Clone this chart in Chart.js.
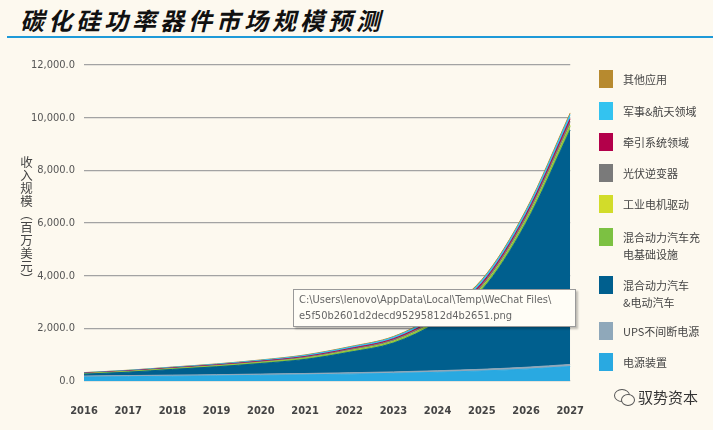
<!DOCTYPE html>
<html>
<head>
<meta charset="utf-8">
<script src="https://cdn.jsdelivr.net/npm/chart.js@4.4.1/dist/chart.umd.min.js"></script>
<style>
    html, body { margin: 0; padding: 0; }
    body { width: 713px; height: 430px; background: #fdf9ef; position: relative; overflow: hidden; font-family: "Noto Sans CJK SC", sans-serif; }
    #title { position: absolute; left: 20px; top: 2px; font-size: 24px; font-weight: 700; font-style: italic; letter-spacing: 4px; color: #111; }
    #rule { position: absolute; left: 7px; top: 36px; width: 706px; height: 2px; background: #1e9ad8; }
    #chartBox { position: absolute; left: 0; top: 0; width: 600px; height: 430px; }
    #yTitle { position: absolute; left: 19px; top: 156px; writing-mode: vertical-rl; font-size: 12.5px; line-height: 14px; color: #444; letter-spacing: 0.5px; }
    .legend { position: absolute; left: 599px; font-size: 11px; line-height: 17px; color: #444; }
    .legend i { position: absolute; left: 0; width: 14px; height: 18px; }
    .legend span { position: absolute; left: 24px; white-space: nowrap; }
    #tip { position: absolute; left: 293px; top: 289px; width: 283px; height: 38px; background: #fffdf6; border: 1px solid #9a9a9a; box-shadow: 2px 2px 2px rgba(0,0,0,0.25); font-family: "Liberation Sans Narrow", "DejaVu Sans Condensed", sans-serif; font-size: 11px; line-height: 16px; color: #666; padding: 2px 0 0 5px; box-sizing: border-box; }
    #mark { position: absolute; left: 614px; top: 386px; font-size: 15px; color: #333; }
    #mark .b1 { position: absolute; left: 0; top: 3px; width: 14px; height: 11px; border: 1.3px solid #555; border-radius: 50%; }
    #mark .b2 { position: absolute; left: 7px; top: 8px; width: 12px; height: 10px; border: 1.3px solid #555; border-radius: 50%; background: #fdf9ef; }
    #mark span { position: absolute; left: 24px; top: 0; white-space: nowrap; }
</style>
</head>
<body>
<div id="title">碳化硅功率器件市场规模预测</div>
<div id="rule"></div>
<div id="chartBox"><canvas id="marketChart" width="600" height="430"></canvas></div>
<div id="yTitle">收入规模（百万美元）</div>
<div id="legend"></div>
<div id="tip">C:\Users\lenovo\AppData\Local\Temp\WeChat Files\<br>e5f50b2601d2decd95295812d4b2651.png</div>
<div id="mark"><div class="b1"></div><div class="b2"></div><span>驭势资本</span></div>

<script>
// Years on the x axis
const years = ['2016', '2017', '2018', '2019', '2020', '2021', '2022', '2023', '2024', '2025', '2026', '2027'];

// Series values (million USD), stacked bottom to top
const powerSupply = [150, 165, 180, 195, 215, 235, 260, 290, 330, 380, 450, 550];
const ups = [40, 42, 44, 46, 48, 50, 53, 56, 60, 65, 72, 80];
const evHev = [70, 128, 216, 299, 402, 535, 777, 1094, 1840, 3005, 5468, 8900];
const charging = [13, 17, 20, 24, 30, 37, 46, 55, 70, 88, 112, 143];
const motorDrive = [4, 5, 5, 7, 8, 10, 13, 15, 19, 24, 31, 39];
const pvInverter = [13, 16, 20, 24, 30, 37, 46, 55, 70, 88, 112, 143];
const traction = [10, 12, 14, 18, 22, 27, 34, 40, 51, 64, 82, 104];
const military = [14, 18, 22, 26, 32, 41, 50, 60, 77, 96, 122, 156];
const otherApps = [6, 7, 9, 11, 13, 18, 21, 25, 33, 40, 51, 65];

// Y axis ticks
const yTicks = [0, 2000, 4000, 6000, 8000, 10000, 12000];

const series = [
    { label: '电源装置', data: powerSupply, color: '#29a9e1', legendTop: 353 },
    { label: 'UPS不间断电源', data: ups, color: '#8fa8ba', legendTop: 322 },
    { label: '混合动力汽车\n&电动汽车', data: evHev, color: '#005f8e', legendTop: 276 },
    { label: '混合动力汽车充\n电基础设施', data: charging, color: '#7cc142', legendTop: 228 },
    { label: '工业电机驱动', data: motorDrive, color: '#d2dc2a', legendTop: 195 },
    { label: '光伏逆变器', data: pvInverter, color: '#7a7a7a', legendTop: 164 },
    { label: '牵引系统领域', data: traction, color: '#b3004a', legendTop: 133 },
    { label: '军事&航天领域', data: military, color: '#33c3f0', legendTop: 102 },
    { label: '其他应用', data: otherApps, color: '#b78a2f', legendTop: 70 }
];

// Legend (right side)
const legendBox = document.getElementById('legend');
series.forEach(s => {
    const item = document.createElement('div');
    item.className = 'legend';
    item.style.top = s.legendTop + 'px';
    const lines = s.label.split('\n');
    item.innerHTML = `<i style="background:${s.color}"></i><span style="top:1px">${lines.join('<br>')}</span>`;
    legendBox.appendChild(item);
});

const tickFont = "'Liberation Sans Narrow', 'DejaVu Sans Condensed', 'Liberation Sans', sans-serif";

const ctx = document.getElementById('marketChart').getContext('2d');
new Chart(ctx, {
    type: 'line',
    data: {
        labels: years,
        datasets: series.map((s, i) => ({
            label: s.label,
            data: s.data,
            backgroundColor: s.color,
            borderColor: s.color,
            borderWidth: 1,
            pointRadius: 0,
            fill: i === 0 ? 'origin' : '-1',
            cubicInterpolationMode: 'monotone'
        }))
    },
    options: {
        responsive: false,
        animation: false,
        layout: {
            padding: { left: 0, right: 18, top: 65, bottom: 0 }
        },
        plugins: {
            legend: { display: false },
            tooltip: { enabled: false }
        },
        scales: {
            x: {
                offset: false,
                grid: { display: false },
                border: { display: false },
                ticks: {
                    color: '#444',
                    padding: 16,
                    maxRotation: 0,
                    autoSkip: false,
                    font: { family: tickFont, size: 11, weight: 'bold' }
                },
                afterFit: function(axis) { axis.height = 49; }
            },
            y: {
                stacked: true,
                min: 0,
                max: 12000,
                afterBuildTicks: function(axis) {
                    axis.ticks = yTicks.map(v => ({ value: v }));
                },
                grid: { color: '#a3a3a3', lineWidth: 1.3, drawTicks: false },
                border: { display: false },
                ticks: {
                    color: '#555',
                    padding: 9,
                    font: { family: tickFont, size: 11 },
                    callback: function(value) {
                        return value.toLocaleString('en-US', { minimumFractionDigits: 1, maximumFractionDigits: 1 });
                    }
                },
                afterFit: function(axis) { axis.width = 84; }
            }
        }
    }
});
</script>
</body>
</html>
